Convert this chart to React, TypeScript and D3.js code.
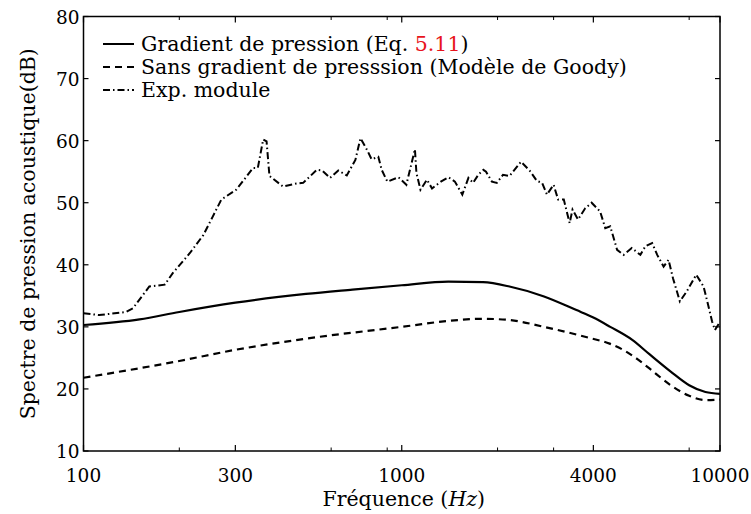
import React from "react";
import * as d3 from "d3";

const W = 751;
const H = 514;
const M = { left: 83.5, right: 720, top: 16.5, bottom: 451 };

const yTicks = [10, 20, 30, 40, 50, 60, 70, 80];
const xLabelTicks = [100, 300, 1000, 4000, 10000];
const xMinorTicks = [200, 600, 900, 2000, 3000, 8000];

// Gradient de pression (Eq. 5.11)
const gradFreq = [100, 150, 200, 300, 500, 700, 1000, 1400, 1800, 2180, 2800, 3540, 4000, 4520, 5300, 6000, 7000, 8000, 9000, 10000];
const gradDb = [30.3, 31.2, 32.4, 33.9, 35.3, 36.0, 36.7, 37.3, 37.2, 36.5, 34.9, 32.7, 31.5, 30.0, 27.9, 25.6, 22.8, 20.6, 19.5, 19.2];

// Sans gradient de pression (Modèle de Goody)
const goodyFreq = [100, 200, 300, 500, 1000, 1500, 1800, 2180, 2800, 3900, 4500, 5000, 5500, 6000, 7000, 8000, 9000, 10000];
const goodyDb = [21.8, 24.5, 26.3, 28.1, 30.0, 31.1, 31.3, 31.1, 30.0, 28.2, 27.3, 26.2, 24.8, 23.3, 20.6, 18.9, 18.2, 18.3];

// Exp. module
const expFreq = [100, 112, 136, 143, 161, 180, 191, 216, 238, 255, 271, 302, 325, 341, 353, 367, 376, 384, 424, 467, 490, 541, 562, 595, 632, 672, 715, 742, 778, 804, 844, 865, 901, 977, 1034, 1100, 1112, 1145, 1200, 1245, 1327, 1402, 1469, 1550, 1620, 1675, 1740, 1805, 1840, 1920, 1990, 2080, 2180, 2370, 2530, 2660, 2760, 2860, 3000, 3100, 3230, 3370, 3440, 3580, 3770, 3950, 4200, 4360, 4520, 4750, 4980, 5280, 5620, 5830, 6120, 6350, 6650, 6890, 7120, 7480, 7860, 8420, 8880, 9150, 9440, 9640, 9860, 10000];
const expDb = [32.2, 31.9, 32.4, 33.0, 36.5, 36.8, 38.7, 41.9, 44.8, 47.8, 50.5, 52.1, 54.2, 55.6, 55.6, 60.2, 59.9, 54.3, 52.6, 53.1, 53.2, 55.3, 55.2, 54.0, 55.2, 54.4, 56.9, 60.4, 58.5, 57.0, 57.4, 55.3, 53.4, 54.1, 52.9, 58.6, 54.8, 52.1, 53.7, 52.3, 53.4, 54.1, 53.4, 51.3, 54.0, 53.2, 54.5, 55.3, 55.0, 53.4, 53.2, 54.5, 54.3, 56.6, 55.1, 53.5, 53.2, 51.3, 52.9, 50.5, 50.5, 46.7, 48.9, 47.3, 49.1, 50.0, 48.6, 45.9, 46.2, 42.4, 41.6, 42.7, 41.6, 43.0, 43.5, 41.6, 39.7, 40.8, 37.8, 34.1, 35.7, 38.4, 36.5, 33.8, 30.9, 29.5, 30.3, 30.8];

const FONT = '"DejaVu Serif", serif';
const TICK_FS = 18.5;
const TEXT_FS = 20.5;

export default function App() {
  const x = d3.scaleLog().domain([100, 10000]).range([M.left, M.right]);
  const y = d3.scaleLinear().domain([10, 80]).range([M.bottom, M.top]);

  const smooth = d3
    .line<[number, number]>()
    .x((d) => x(d[0]))
    .y((d) => y(d[1]))
    .curve(d3.curveMonotoneX);
  const raw = d3
    .line<[number, number]>()
    .x((d) => x(d[0]))
    .y((d) => y(d[1]));

  const zip = (a: number[], b: number[]) => a.map((v, i) => [v, b[i]] as [number, number]);

  const gradPath = smooth(zip(gradFreq, gradDb)) || "";
  const goodyPath = smooth(zip(goodyFreq, goodyDb)) || "";
  const expPath = raw(zip(expFreq, expDb)) || "";

  const expDash = "7,3,1.5,3";
  const goodyDash = "7,5";

  const legendRows = [
    { y: 44, dash: undefined as string | undefined, label: "grad" },
    { y: 67, dash: goodyDash, label: "goody" },
    { y: 90, dash: expDash, label: "exp" },
  ];

  const tickTxt = { fontFamily: FONT, fontSize: TICK_FS };
  const txt = { fontFamily: FONT, fontSize: TEXT_FS };

  return (
    <svg
      width={W}
      height={H}
      style={{ position: "fixed", left: 0, top: 0, background: "#fff" }}
    >
      <rect x={0} y={0} width={W} height={H} fill="#fff" />
      <defs>
        <clipPath id="clip">
          <rect x={M.left} y={M.top} width={M.right - M.left} height={M.bottom - M.top} />
        </clipPath>
      </defs>
      <g clipPath="url(#clip)">
        <path d={expPath} fill="none" stroke="#000" strokeWidth={2} strokeDasharray={expDash} />
        <path d={gradPath} fill="none" stroke="#000" strokeWidth={2.2} />
        <path d={goodyPath} fill="none" stroke="#000" strokeWidth={2.2} strokeDasharray={goodyDash} />
      </g>

      <rect
        x={M.left}
        y={M.top}
        width={M.right - M.left}
        height={M.bottom - M.top}
        fill="none"
        stroke="#000"
        strokeWidth={1.5}
      />

      {yTicks.map((t) => (
        <g key={"y" + t}>
          <line x1={M.left} x2={M.left + 5} y1={y(t)} y2={y(t)} stroke="#000" strokeWidth={1.2} />
          <line x1={M.right} x2={M.right - 5} y1={y(t)} y2={y(t)} stroke="#000" strokeWidth={1.2} />
          <text x={M.left - 4} y={y(t) + 7} textAnchor="end" style={tickTxt}>
            {t}
          </text>
        </g>
      ))}

      {xLabelTicks.map((t) => (
        <g key={"x" + t}>
          <line x1={x(t)} x2={x(t)} y1={M.bottom} y2={M.bottom - 6} stroke="#000" strokeWidth={1.2} />
          <line x1={x(t)} x2={x(t)} y1={M.top} y2={M.top + 6} stroke="#000" strokeWidth={1.2} />
          <text x={x(t)} y={M.bottom + 31} textAnchor="middle" style={tickTxt}>
            {t}
          </text>
        </g>
      ))}
      {xMinorTicks.map((t) => (
        <g key={"xm" + t}>
          <line x1={x(t)} x2={x(t)} y1={M.bottom} y2={M.bottom - 3.5} stroke="#000" strokeWidth={1} />
          <line x1={x(t)} x2={x(t)} y1={M.top} y2={M.top + 3.5} stroke="#000" strokeWidth={1} />
        </g>
      ))}

      <text x={(M.left + M.right) / 2 + 2} y={506} textAnchor="middle" style={txt}>
        Fréquence (<tspan fontStyle="italic">Hz</tspan>)
      </text>
      <text
        transform={`translate(35, ${(M.top + M.bottom) / 2}) rotate(-90)`}
        textAnchor="middle"
        style={txt}
      >
        Spectre de pression acoustique(dB)
      </text>

      {legendRows.map((r) => (
        <line
          key={"l" + r.label}
          x1={103}
          x2={134}
          y1={r.y}
          y2={r.y}
          stroke="#000"
          strokeWidth={2}
          strokeDasharray={r.dash}
        />
      ))}
      <text x={141} y={51} style={txt}>
        Gradient de pression (Eq. <tspan fill="#e8141c">5.11</tspan>)
      </text>
      <text x={141} y={74} style={txt}>
        Sans gradient de presssion (Modèle de Goody)
      </text>
      <text x={141} y={97} style={txt}>
        Exp. module
      </text>
    </svg>
  );
}
